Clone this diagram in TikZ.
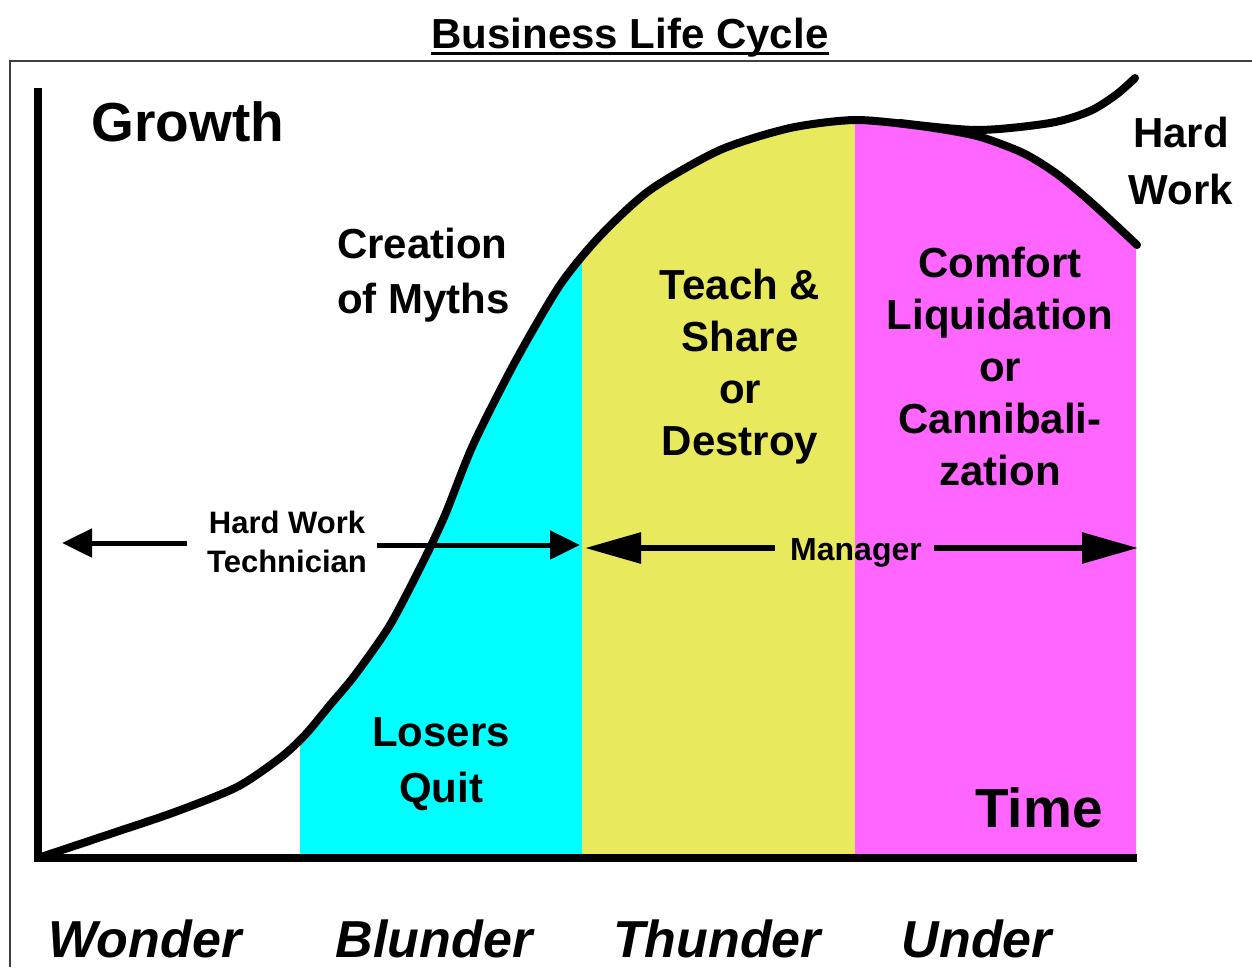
\documentclass[tikz,border=0pt]{standalone}
\usepackage{fontspec}
\setmainfont{Liberation Sans}
\usetikzlibrary{arrows.meta}

\definecolor{bandcyan}{RGB}{0,255,255}
\definecolor{bandyellow}{RGB}{233,233,94}
\definecolor{bandpink}{RGB}{255,102,255}

% growth curve, from the origin over the peak down to the end of the pink band
\newcommand{\lifecurve}{plot[smooth,tension=0.45] coordinates {
  (38,858) (110,834) (175,812) (237,787) (280,758) (305,735) (330,705)
  (355,675) (390,625) (423,562) (445,515) (473,445) (515,362)
  (560,285) (600,236) (650,190) (720,150) (790,128) (855,120) (920,126)
  (977,136) (1023,153) (1057,174) (1093,204) (1137,245)}}

\begin{document}
\begin{tikzpicture}[x=1pt,y=-1pt,
  big/.style={font=\bfseries\fontsize{42}{52}\selectfont,align=center,inner sep=0pt},
  huge/.style={font=\bfseries\fontsize{55}{60}\selectfont,inner sep=0pt},
  small/.style={font=\bfseries\fontsize{31}{39}\selectfont,align=center,inner sep=0pt},
  stage/.style={font=\bfseries\itshape\fontsize{52}{60}\selectfont,anchor=base,inner sep=0pt},
  techarrow/.style={line width=5pt,-{Triangle[length=30pt,width=28pt]}},
  mgrarrow/.style={line width=6pt,-{Triangle[length=56pt,width=30pt]}}]

\useasboundingbox (0,0) rectangle (1252,967);
\fill[white] (0,0) rectangle (1252,967);

% coloured bands under the curve
\begin{scope}
  \clip (300,0) rectangle (582,858);
  \fill[bandcyan] \lifecurve -- (1137,858) -- cycle;
\end{scope}
\begin{scope}
  \clip (582,0) rectangle (855,858);
  \fill[bandyellow] \lifecurve -- (1137,858) -- cycle;
\end{scope}
\begin{scope}
  \clip (855,0) rectangle (1136,858);
  \fill[bandpink] \lifecurve -- (1137,858) -- cycle;
\end{scope}

% frame
\draw[line width=2pt,black!75] (10,967) |- (1252,61);

% axes
\draw[line width=8pt] (38,88) -- (38,858) -- (1137,858);

% curve and the hard work branch
\draw[line width=8pt,line cap=round,line join=round] \lifecurve;
\draw[line width=8pt,line cap=round] plot[smooth,tension=0.5] coordinates {
  (900,123) (977,130) (1050,123) (1090,111) (1117,94) (1135,78)};

% title
\node[font=\bfseries\fontsize{42}{48}\selectfont,anchor=base,inner sep=0pt]
  (title) at (630,48) {Business Life Cycle};
\draw[line width=3pt] ([yshift=-5pt]title.base west) -- ([yshift=-5pt]title.base east);

\node[huge] (growth) at (188,122) {Growth};
\node[huge] (time) at (1039,808) {Time};

\node[big,align=left,anchor=west,font=\bfseries\fontsize{42}{55}\selectfont]
  (myths) at (337,275) {Creation\\of Myths};
\node[big] (teach) at (740,367) {Teach \&\\Share\\or\\Destroy};
\node[big] (comfort) at (1000,366) {Comfort\\Liquidation\\or\\Cannibali-\\zation};
\node[big,font=\bfseries\fontsize{42}{56}\selectfont] (losers) at (441,764) {Losers\\Quit};
\node[big,font=\bfseries\fontsize{42}{57}\selectfont] (hardwork) at (1181,161) {Hard\\Work};

% who does the work
\node[small] (tech) at (287,542) {Hard Work\\Technician};
\node[small,font=\bfseries\fontsize{32}{39}\selectfont] (manager) at (856,553) {Manager};

\coordinate (techL) at (62,543);
\coordinate (techR) at (580,545);
\coordinate (mgrL) at (585,548);
\coordinate (mgrR) at (1138,548);

\draw[techarrow] ([xshift=-20pt,yshift=-1pt]tech.west) -- (techL);
\draw[techarrow] ([xshift=10pt,yshift=-3pt]tech.east) -- (techR);
\draw[mgrarrow] ([xshift=-15pt,yshift=5pt]manager.west) -- (mgrL);
\draw[mgrarrow] ([xshift=12pt,yshift=5pt]manager.east) -- (mgrR);

% stages along the time axis
\node[stage] (wonder) at (145,957) {Wonder};
\node[stage] (blunder) at (434,957) {Blunder};
\node[stage] (thunder) at (717,957) {Thunder};
\node[stage] (under) at (977,957) {Under};

\end{tikzpicture}
\end{document}
